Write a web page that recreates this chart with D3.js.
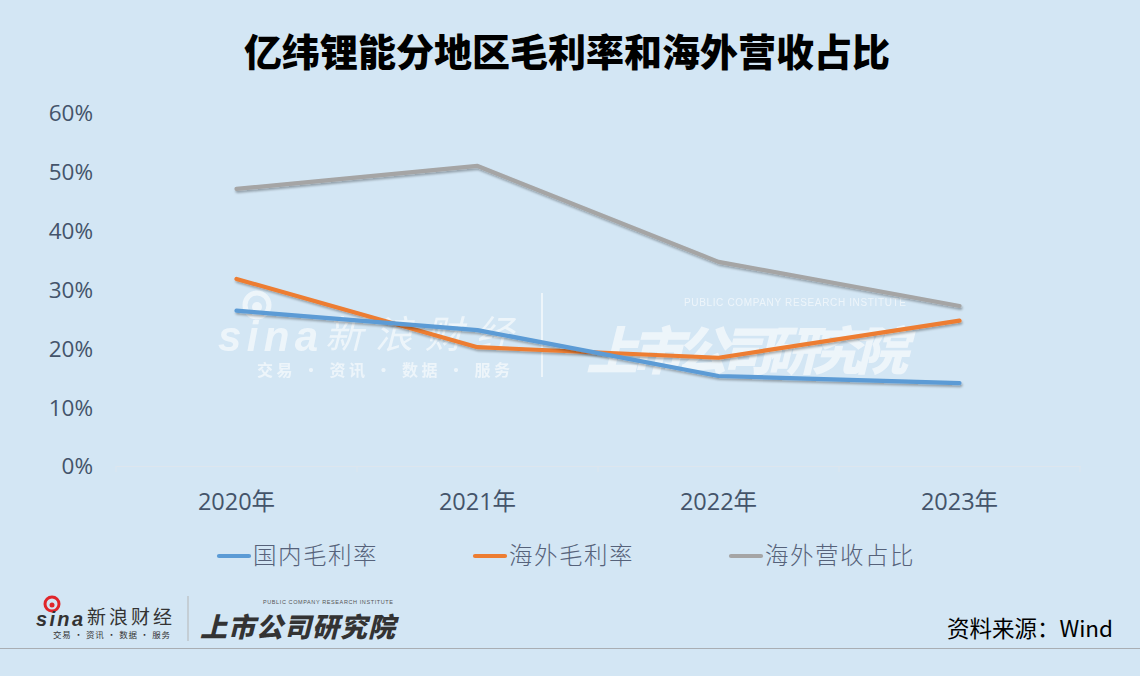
<!DOCTYPE html>
<html><head><meta charset="utf-8">
<script src="https://cdn.jsdelivr.net/npm/d3@7"></script>
<style>
html,body{margin:0;padding:0;background:#d3e6f4;}
svg{display:block;}
text{font-family:"Open Sans","Noto Sans CJK SC",sans-serif;}
</style></head>
<body>
<svg id="chart" width="1140" height="676"></svg>
<script>
const title = "亿纬锂能分地区毛利率和海外营收占比";
const categories = ["2020年","2021年","2022年","2023年"];
const seriesNames = ["国内毛利率","海外毛利率","海外营收占比"];
const domesticMargin = [0.264, 0.231, 0.153, 0.141];
const overseasMargin = [0.318, 0.202, 0.184, 0.247];
const overseasShare  = [0.471, 0.510, 0.347, 0.272];
const yTicks = [0, 0.1, 0.2, 0.3, 0.4, 0.5, 0.6];
const colors = ["#5b9bd5", "#ed7d31", "#a5a5a5"];
const source = "资料来源：Wind";

const svg = d3.select("#chart");
const W = 1140, H = 676;
svg.append("rect").attr("width", W).attr("height", H).attr("fill", "#d3e6f4");

const defs = svg.append("defs");
const f = defs.append("filter").attr("id","shadow").attr("x","-5%").attr("y","-20%").attr("width","110%").attr("height","150%");
f.append("feDropShadow").attr("dx",1).attr("dy",2).attr("stdDeviation",1.2).attr("flood-color","#000").attr("flood-opacity",0.3);

// Title
svg.append("text").attr("x", 567).attr("y", 66).attr("text-anchor","middle")
  .style("font-family",'"Noto Sans CJK SC",sans-serif').style("font-weight",900)
  .style("font-size","38px").attr("fill","#000").text(title);

const x = d3.scaleBand().domain(categories).range([116, 1080]).padding(0);
const y = d3.scaleLinear().domain([0, 0.6]).range([466, 113]);

// Y axis labels
const yAxis = d3.axisLeft(y).tickValues(yTicks).tickFormat(d3.format(".0%")).tickSize(0).tickPadding(0);
const gy = svg.append("g").attr("transform","translate(93,0)").call(yAxis);
gy.select(".domain").remove();
gy.selectAll("text").attr("fill","#44546a").style("font-size","22.5px").attr("dy","0.35em");

// X axis
const xAxis = d3.axisBottom(x).tickSize(0).tickPadding(0);
const gx = svg.append("g").attr("transform","translate(0,466)").call(xAxis);
gx.select(".domain").attr("stroke","#dde6ee").attr("stroke-width",1);
gx.selectAll("text").attr("fill","#44546a").style("font-size","23.5px").attr("y",44).attr("dy",0)
  .style("font-family",'"Open Sans","Noto Sans CJK SC",sans-serif');
// band-edge tick marks
const edges = categories.map(c => x(c)).concat([x(categories[categories.length-1]) + x.bandwidth()]);
gx.selectAll("line.edge").data(edges).enter().append("line").attr("class","edge")
  .attr("x1", d=>d).attr("x2", d=>d).attr("y1",0).attr("y2",6).attr("stroke","#dde6ee");

// Watermark
const wm = svg.append("g").attr("fill","#ffffff").attr("opacity",0.6);
wm.append("circle").attr("cx",257).attr("cy",305).attr("r",12).attr("fill","none").attr("stroke","#fff").attr("stroke-width",5);
wm.append("circle").attr("cx",257).attr("cy",307).attr("r",5);
wm.append("text").attr("x",218).attr("y",351).style("font-family","'Liberation Sans',sans-serif").style("font-weight",700).style("font-style","italic").style("font-size","42px").attr("textLength",100).text("sina");
wm.append("text").attr("x",325).attr("y",348).style("font-family",'"Noto Sans CJK SC"').style("font-style","italic").style("font-size","38px").attr("textLength",188).text("新浪财经");
wm.append("text").attr("x",257).attr("y",376).style("font-family",'"Noto Sans CJK SC"').style("font-weight",700).style("font-size","16px").attr("textLength",253).text("交易 · 资讯 · 数据 · 服务");
wm.append("rect").attr("x",541).attr("y",293).attr("width",2).attr("height",84);
wm.append("text").attr("x",586).attr("y",370).style("font-family",'"Noto Sans CJK SC"').style("font-weight",900).style("font-style","italic").style("font-size","52px").attr("textLength",322).text("上市公司研究院");
wm.append("text").attr("x",684).attr("y",306).style("font-family","'Liberation Sans',sans-serif").style("font-size","10px").attr("textLength",222).text("PUBLIC COMPANY RESEARCH INSTITUTE");

// Lines
const seriesData = [domesticMargin, overseasMargin, overseasShare];
const line = d3.line().x((d,i)=>x(categories[i]) + x.bandwidth()/2).y(d=>y(d));
[2,1,0].forEach(k=>{
  svg.append("path").datum(seriesData[k]).attr("d", line).attr("fill","none")
    .attr("stroke", colors[k]).attr("stroke-width",4.2).attr("stroke-linecap","round").attr("stroke-linejoin","round")
    .attr("filter","url(#shadow)");
});

// Legend
const legendX = [219, 475, 731];
const lg = svg.append("g");
seriesNames.forEach((n,i)=>{
  lg.append("line").attr("x1",legendX[i]).attr("x2",legendX[i]+30).attr("y1",556).attr("y2",556)
    .attr("stroke",colors[i]).attr("stroke-width",4.2).attr("stroke-linecap","round");
  lg.append("text").attr("x",legendX[i]+34).attr("y",564).style("font-family",'"Noto Sans CJK SC"')
    .style("font-size","23.5px").style("font-weight",300).style("letter-spacing","1.5px").attr("fill","#56627a").text(n);
});

// Source
svg.append("text").attr("x",1113).attr("y",637).attr("text-anchor","end")
  .style("font-family",'"Noto Sans CJK SC"').style("font-size","22.5px").attr("fill","#000").text(source);

// Bottom rule
svg.append("line").attr("x1",0).attr("x2",W).attr("y1",648.5).attr("y2",648.5).attr("stroke","#a9aeb3").attr("stroke-width",1.2);

// Bottom logos
const bl = svg.append("g");
bl.append("circle").attr("cx",52).attr("cy",604).attr("r",7).attr("fill","none").attr("stroke","#e0262b").attr("stroke-width",3);
bl.append("circle").attr("cx",52).attr("cy",605).attr("r",2.5).attr("fill","#e0262b");
bl.append("text").attr("x",36).attr("y",626).style("font-family","'Liberation Sans',sans-serif").style("font-weight",700).style("font-style","italic").style("font-size","20px").attr("textLength",47).attr("fill","#333").text("sina");
bl.append("text").attr("x",87).attr("y",624).style("font-family",'"Noto Sans CJK SC"').style("font-size","19px").attr("textLength",85).attr("fill","#333").text("新浪财经");
bl.append("text").attr("x",53).attr("y",638).style("font-family",'"Noto Sans CJK SC"').style("font-size","8.5px").attr("textLength",117).attr("fill","#333").text("交易 · 资讯 · 数据 · 服务");
bl.append("rect").attr("x",187.5).attr("y",596).attr("width",1).attr("height",45).attr("fill","#b5b5b5");
bl.append("text").attr("x",200).attr("y",637).style("font-family",'"Noto Sans CJK SC"').style("font-weight",900).style("font-style","italic").style("font-size","27px").attr("textLength",195).attr("fill","#333").text("上市公司研究院");
bl.append("text").attr("x",263).attr("y",604).style("font-family","'Liberation Sans',sans-serif").style("font-size","5.5px").attr("textLength",130).attr("fill","#555").text("PUBLIC COMPANY RESEARCH INSTITUTE");
</script>
</body></html>
